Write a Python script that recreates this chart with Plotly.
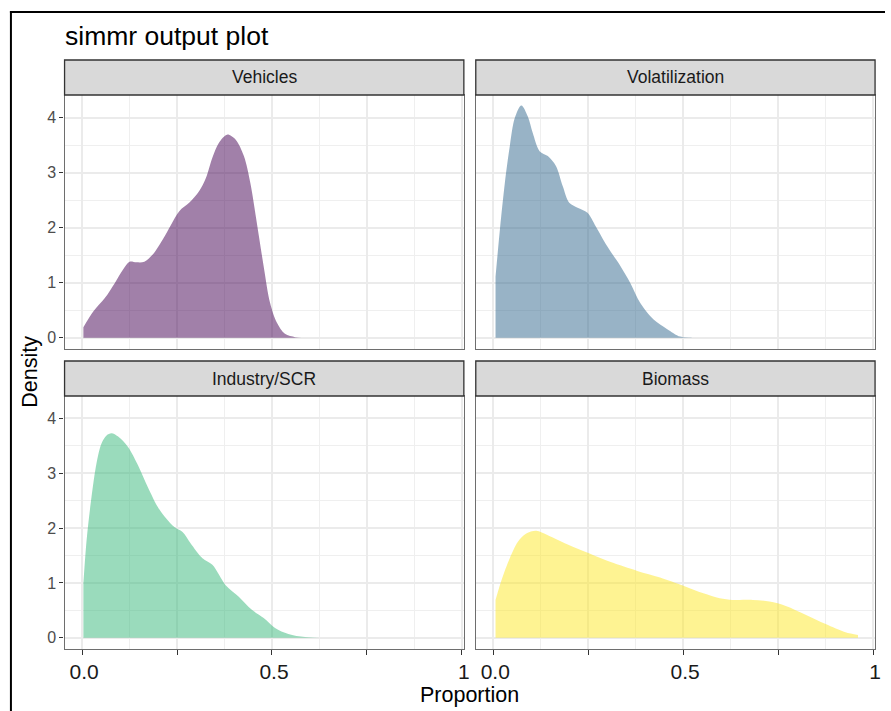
import plotly.graph_objects as go

# ---- data ----
panels = ["Vehicles", "Volatilization", "Industry/SCR", "Biomass"]

veh_x = [0.0035, 0.030, 0.060, 0.086, 0.108, 0.125, 0.143, 0.164, 0.186, 0.212, 0.234, 0.256,
         0.282, 0.308, 0.326, 0.343, 0.360, 0.382, 0.404, 0.426, 0.443, 0.460, 0.478, 0.495,
         0.513, 0.534, 0.561, 0.577]
veh_y = [0.19, 0.48, 0.72, 0.99, 1.24, 1.38, 1.37, 1.38, 1.51, 1.78, 2.05, 2.30,
         2.45, 2.66, 2.90, 3.27, 3.54, 3.69, 3.60, 3.30, 2.81, 2.09, 1.30, 0.63,
         0.27, 0.07, 0.01, 0.0]

vol_x = [0.006, 0.0175, 0.0305, 0.0435, 0.0566, 0.074, 0.091, 0.104, 0.122, 0.1436, 0.165, 0.183,
         0.200, 0.222, 0.248, 0.270, 0.300, 0.335, 0.361, 0.387, 0.422, 0.457, 0.492, 0.522]
vol_y = [1.11, 1.96, 2.81, 3.48, 3.99, 4.22, 4.02, 3.72, 3.39, 3.30, 3.12, 2.75,
         2.45, 2.36, 2.27, 2.02, 1.66, 1.30, 0.99, 0.63, 0.33, 0.16, 0.02, 0.005]

ind_x = [0.0035, 0.012, 0.025, 0.038, 0.051, 0.0645, 0.0775, 0.095, 0.121, 0.147, 0.173, 0.199,
         0.221, 0.243, 0.2645, 0.286, 0.317, 0.343, 0.378, 0.4125, 0.447, 0.478, 0.508, 0.543,
         0.587, 0.643]
ind_y = [0.99, 1.78, 2.57, 3.18, 3.54, 3.69, 3.73, 3.67, 3.48, 3.15, 2.75, 2.39,
         2.18, 2.02, 1.93, 1.72, 1.45, 1.33, 0.96, 0.75, 0.51, 0.36, 0.18, 0.07,
         0.013, 0.0]

bio_x = [0.006, 0.0217, 0.0435, 0.065, 0.087, 0.113, 0.1436, 0.196, 0.252, 0.309, 0.379, 0.439,
         0.5005, 0.553, 0.596, 0.631, 0.683, 0.727, 0.770, 0.822, 0.875, 0.927, 0.960]
bio_y = [0.69, 1.05, 1.45, 1.75, 1.90, 1.95, 1.87, 1.70, 1.54, 1.38, 1.22, 1.10,
         0.95, 0.81, 0.72, 0.69, 0.69, 0.66, 0.58, 0.42, 0.25, 0.10, 0.05]

series_x = [veh_x, vol_x, ind_x, bio_x]
series_y = [veh_y, vol_y, ind_y, bio_y]
fills = ["rgba(68,1,84,0.5)", "rgba(49,104,142,0.5)", "rgba(53,183,121,0.5)", "rgba(253,231,37,0.5)"]

x_ticks = [0, 0.25, 0.5, 0.75, 1]
x_ticktext = ["0.0", "", "0.5", "", "1"]
x_minor = [0.125, 0.375, 0.625, 0.875]
y_ticks = [0, 1, 2, 3, 4]
y_ticktext = ["0", "1", "2", "3", "4"]

# ---- layout geometry (pixels) ----
W, H = 891, 711
cols = [(65, 467), (479, 881)]
rows = [(95, 349), (396, 649)]      # plot areas
strips = [(60, 95), (361, 396)]     # strip areas

def px(v):
    return v / W

def py(v):
    return 1 - v / H

fig = go.Figure()
layout = dict(width=W, height=H, autosize=False, margin=dict(l=0, r=0, t=0, b=0, pad=0),
              paper_bgcolor="white", plot_bgcolor="white", showlegend=False)
shapes = []
annotations = []

XR = [-0.046, 1.005]
YR = [-0.205, 4.41]

for i, name in enumerate(panels):
    r, c = divmod(i, 2)
    n = i + 1
    xa = "xaxis" if n == 1 else f"xaxis{n}"
    ya = "yaxis" if n == 1 else f"yaxis{n}"
    xref = "x" if n == 1 else f"x{n}"
    yref = "y" if n == 1 else f"y{n}"
    fig.add_trace(go.Scatter(x=series_x[i], y=series_y[i], mode="lines", fill="tozeroy",
                             fillcolor=fills[i], line=dict(width=0, shape="spline", smoothing=0.9,
                                                           color=fills[i]),
                             hoverinfo="skip", xaxis=xref, yaxis=yref))
    bottom = (r == 1)
    left = (c == 0)
    layout[xa] = dict(domain=[px(cols[c][0]), px(cols[c][1])], range=XR, anchor=yref,
                      tickvals=x_ticks, ticktext=x_ticktext, showticklabels=bottom,
                      ticks="outside" if bottom else "", ticklen=5, tickwidth=1.2, tickcolor="#333333",
                      ticklabelshift=2, ticklabelstandoff=-1,
                      tickfont=dict(family="Liberation Sans, Arial", size=21, color="#1A1A1A"),
                      showgrid=True, gridcolor="#EBEBEB", gridwidth=1.5, zeroline=False,
                      minor=dict(tickvals=x_minor, showgrid=True, gridcolor="#EFEFEF", gridwidth=1, ticks=""),
                      showline=True, mirror=True, linecolor="#6E6E6E", linewidth=1.2, fixedrange=True)
    layout[ya] = dict(domain=[py(rows[r][1]), py(rows[r][0])], range=YR, anchor=xref,
                      tickvals=y_ticks, ticktext=y_ticktext, showticklabels=left,
                      ticks="outside" if left else "", ticklen=4, tickwidth=1.2, tickcolor="#333333",
                      tickfont=dict(family="Liberation Sans, Arial", size=16, color="#4D4D4D"),
                      showgrid=True, gridcolor="#EBEBEB", gridwidth=1.5, zeroline=False,
                      minor=dict(dtick=0.5, tick0=0.5, showgrid=True, gridcolor="#EFEFEF", gridwidth=1, ticks=""),
                      showline=True, mirror=True, linecolor="#6E6E6E", linewidth=1.2, fixedrange=True)
    # strip
    shapes.append(dict(type="rect", xref="paper", yref="paper",
                       x0=px(cols[c][0]), x1=px(cols[c][1]), y0=py(strips[r][1]), y1=py(strips[r][0]),
                       fillcolor="#D9D9D9", line=dict(color="#333333", width=1.3), layer="above"))
    annotations.append(dict(text=name, xref="paper", yref="paper", showarrow=False,
                            x=px((cols[c][0] + cols[c][1]) / 2), y=py((strips[r][0] + strips[r][1]) / 2),
                            xanchor="center", yanchor="middle",
                            font=dict(family="Liberation Sans, Arial", size=17.5, color="#1A1A1A")))

# outer black frame: only its top and left sides fall inside the window
shapes.append(dict(type="line", xref="paper", yref="paper", x0=px(10), x1=1.0, y0=py(12), y1=py(12),
                   line=dict(color="black", width=2), layer="above"))
shapes.append(dict(type="line", xref="paper", yref="paper", x0=px(11), x1=px(11), y0=py(11), y1=0,
                   line=dict(color="black", width=2), layer="above"))

annotations.append(dict(text="simmr output plot", xref="paper", yref="paper", showarrow=False,
                        x=px(63), y=py(36), xanchor="left", yanchor="middle",
                        font=dict(family="Liberation Sans, Arial", size=26.5, color="black")))
annotations.append(dict(text="Density", xref="paper", yref="paper", showarrow=False, textangle=-90,
                        x=px(30), y=py(372), xanchor="center", yanchor="middle",
                        font=dict(family="Liberation Sans, Arial", size=21.5, color="black")))
annotations.append(dict(text="Proportion", xref="paper", yref="paper", showarrow=False,
                        x=px(473), y=py(695), xanchor="center", yanchor="middle",
                        font=dict(family="Liberation Sans, Arial", size=21.5, color="black")))

layout["shapes"] = shapes
layout["annotations"] = annotations
fig.update_layout(**layout)
fig.write_html("out.html", config={"responsive": False, "displayModeBar": False})
